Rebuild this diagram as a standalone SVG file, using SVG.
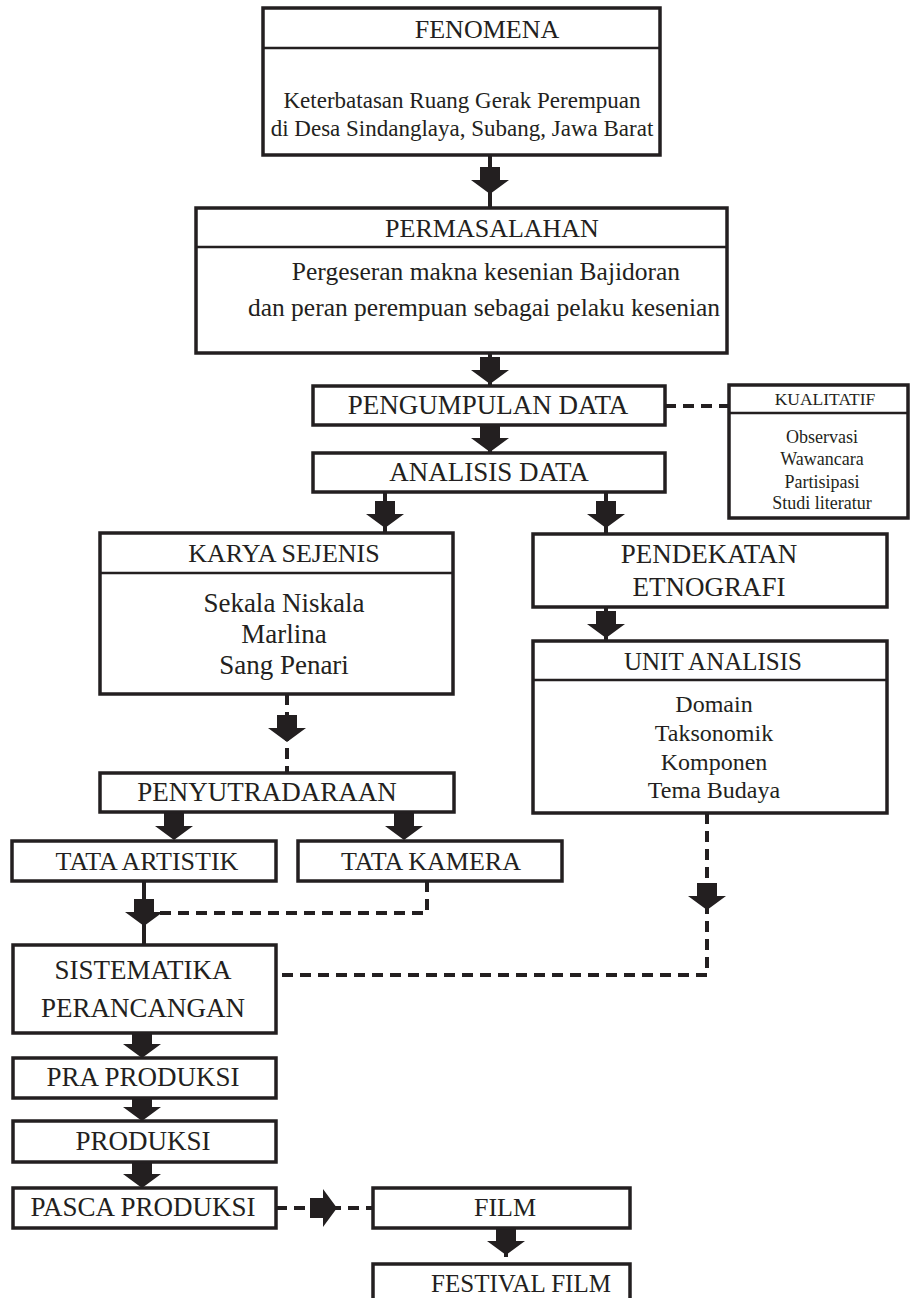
<svg xmlns="http://www.w3.org/2000/svg" xmlns:xlink="http://www.w3.org/1999/xlink" width="910" height="1298" viewBox="0 0 910 1298">
<defs>
<style>
.box{fill:#fff;stroke:#231f20;stroke-width:3.5}
.div{stroke:#231f20;stroke-width:2.5}
.t{font-family:"Liberation Serif","Times New Roman",serif;fill:#231f20;text-anchor:middle}
.ln{stroke:#231f20;stroke-width:4;fill:none}
.ds{stroke:#231f20;stroke-width:4;fill:none;stroke-dasharray:11 7}
</style>
<path id="ah" d="M-10,-27 H10 V-14 H19 L0,0 L-19,-14 H-10 Z" fill="#231f20"/>
</defs>
<rect width="910" height="1298" fill="#fff"/>

<g id="connectors">
<line class="ln" x1="490" y1="155" x2="490" y2="208"/>
<use href="#ah" x="490" y="194"/>
<line class="ln" x1="490" y1="353" x2="490" y2="386"/>
<use href="#ah" x="490" y="384"/>
<line class="ln" x1="490" y1="425" x2="490" y2="453"/>
<use href="#ah" x="490" y="452"/>
<line class="ds" x1="665" y1="406" x2="729" y2="406"/>
<line class="ln" x1="385" y1="492" x2="385" y2="533"/>
<use href="#ah" x="385" y="528"/>
<line class="ln" x1="606" y1="492" x2="606" y2="534"/>
<use href="#ah" x="606" y="528"/>
<line class="ln" x1="606" y1="607" x2="606" y2="641"/>
<use href="#ah" x="606" y="638"/>
<line class="ds" x1="287" y1="694" x2="287" y2="773"/>
<use href="#ah" x="287" y="742"/>
<use href="#ah" x="174" y="840"/>
<use href="#ah" x="404" y="840"/>
<line class="ln" x1="144" y1="881" x2="144" y2="945"/>
<use href="#ah" x="144" y="926"/>
<polyline class="ds" points="427,881 427,913 160,913"/>
<polyline class="ds" points="707,813 707,975 276,975"/>
<use href="#ah" x="707" y="910"/>
<use href="#ah" x="142" y="1058"/>
<use href="#ah" x="142" y="1121"/>
<use href="#ah" x="142" y="1188"/>
<line class="ds" x1="276" y1="1208" x2="373" y2="1208"/>
<use href="#ah" transform="translate(337,1208) rotate(-90)"/>
<line class="ds" x1="506" y1="1228" x2="506" y2="1264"/>
<use href="#ah" x="506" y="1255"/>
</g>

<g id="fenomena">
<rect class="box" x="263" y="8" width="397" height="147"/>
<line class="div" x1="263" y1="48" x2="660" y2="48"/>
<text class="t" x="487" y="38" font-size="26">FENOMENA</text>
<text class="t" x="462" y="108" font-size="23">Keterbatasan Ruang Gerak Perempuan</text>
<text class="t" x="462" y="136" font-size="23">di Desa Sindanglaya, Subang, Jawa Barat</text>
</g>

<g id="permasalahan">
<rect class="box" x="196" y="208" width="531" height="145"/>
<line class="div" x1="196" y1="247" x2="727" y2="247"/>
<text class="t" x="492" y="237" font-size="26">PERMASALAHAN</text>
<text class="t" x="486" y="280" font-size="25.5">Pergeseran makna kesenian Bajidoran</text>
<text class="t" x="484" y="316" font-size="25.5">dan peran perempuan sebagai pelaku kesenian</text>
</g>

<g id="pengumpulan">
<rect class="box" x="313" y="386" width="352" height="39"/>
<text class="t" x="488" y="414" font-size="27">PENGUMPULAN DATA</text>
</g>

<g id="kualitatif">
<rect class="box" x="729" y="385" width="179" height="133"/>
<line class="div" x1="729" y1="413" x2="908" y2="413"/>
<text class="t" x="825" y="405" font-size="17.5">KUALITATIF</text>
<text class="t" x="822" y="443" font-size="18">Observasi</text>
<text class="t" x="822" y="465" font-size="18">Wawancara</text>
<text class="t" x="822" y="488" font-size="18">Partisipasi</text>
<text class="t" x="822" y="509" font-size="18">Studi literatur</text>
</g>

<g id="analisis">
<rect class="box" x="313" y="453" width="352" height="39"/>
<text class="t" x="489" y="481" font-size="27">ANALISIS DATA</text>
</g>

<g id="karya">
<rect class="box" x="100" y="533" width="353" height="161"/>
<line class="div" x1="100" y1="573" x2="453" y2="573"/>
<text class="t" x="284" y="562" font-size="26">KARYA SEJENIS</text>
<text class="t" x="284" y="612" font-size="27">Sekala Niskala</text>
<text class="t" x="284" y="643" font-size="27">Marlina</text>
<text class="t" x="284" y="674" font-size="27">Sang Penari</text>
</g>

<g id="pendekatan">
<rect class="box" x="533" y="534" width="354" height="73"/>
<text class="t" x="709" y="563" font-size="27">PENDEKATAN</text>
<text class="t" x="709" y="596" font-size="27">ETNOGRAFI</text>
</g>

<g id="unit">
<rect class="box" x="533" y="641" width="354" height="172"/>
<line class="div" x1="533" y1="680" x2="887" y2="680"/>
<text class="t" x="713" y="670" font-size="25">UNIT ANALISIS</text>
<text class="t" x="714" y="712" font-size="24">Domain</text>
<text class="t" x="714" y="741" font-size="24">Taksonomik</text>
<text class="t" x="714" y="770" font-size="24">Komponen</text>
<text class="t" x="714" y="798" font-size="24">Tema Budaya</text>
</g>

<g id="penyutradaraan">
<rect class="box" x="100" y="773" width="354" height="39"/>
<text class="t" x="267" y="801" font-size="27">PENYUTRADARAAN</text>
</g>

<g id="tata-artistik">
<rect class="box" x="12" y="841" width="264" height="40"/>
<text class="t" x="147" y="870" font-size="26">TATA ARTISTIK</text>
</g>

<g id="tata-kamera">
<rect class="box" x="298" y="841" width="264" height="40"/>
<text class="t" x="431" y="870" font-size="26">TATA KAMERA</text>
</g>

<g id="sistematika">
<rect class="box" x="13" y="945" width="263" height="88"/>
<text class="t" x="143" y="979" font-size="27">SISTEMATIKA</text>
<text class="t" x="143" y="1017" font-size="27">PERANCANGAN</text>
</g>

<g id="pra-produksi">
<rect class="box" x="13" y="1058" width="263" height="40"/>
<text class="t" x="143" y="1086" font-size="27">PRA PRODUKSI</text>
</g>

<g id="produksi">
<rect class="box" x="13" y="1121" width="263" height="41"/>
<text class="t" x="143" y="1150" font-size="27">PRODUKSI</text>
</g>

<g id="pasca-produksi">
<rect class="box" x="13" y="1188" width="263" height="40"/>
<text class="t" x="143" y="1216" font-size="27">PASCA PRODUKSI</text>
</g>

<g id="film">
<rect class="box" x="373" y="1188" width="257" height="40"/>
<text class="t" x="505" y="1216" font-size="26">FILM</text>
</g>

<g id="festival-film">
<rect class="box" x="373" y="1264" width="257" height="50"/>
<text class="t" x="521" y="1292" font-size="25">FESTIVAL FILM</text>
</g>
</svg>
